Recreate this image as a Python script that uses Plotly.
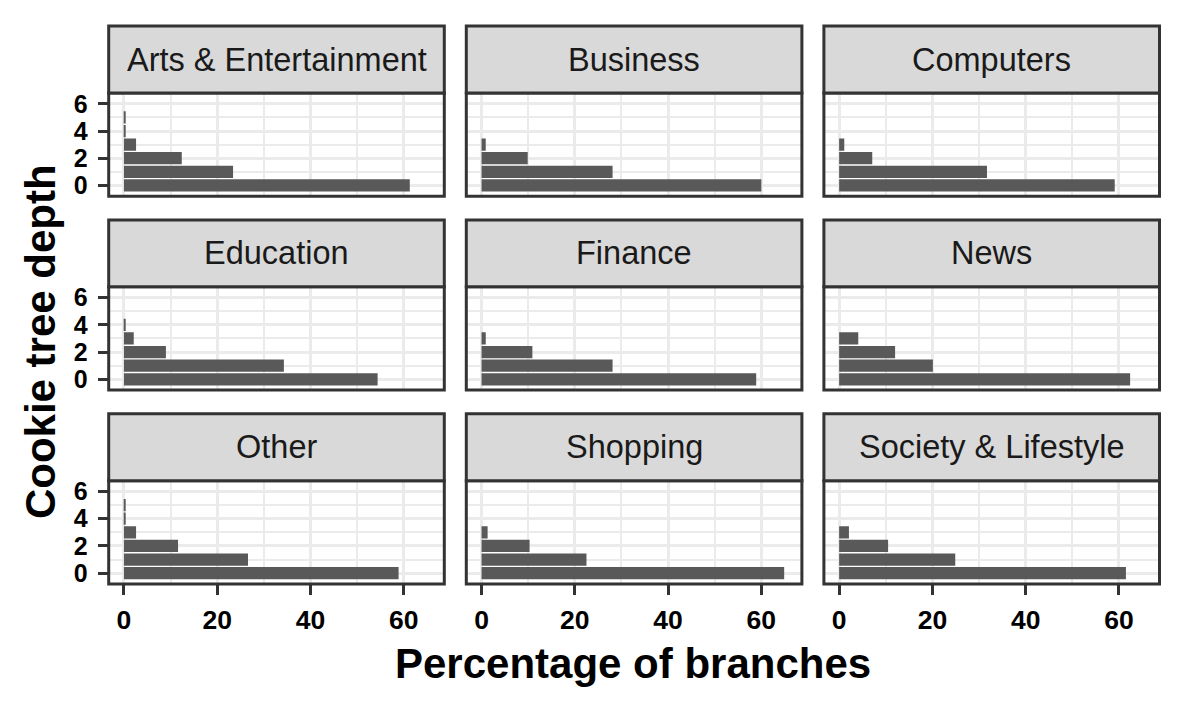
import plotly.graph_objects as go

categories = ["Arts & Entertainment", "Business", "Computers",
              "Education", "Finance", "News",
              "Other", "Shopping", "Society & Lifestyle"]
depths = [0, 1, 2, 3, 4, 5]
arts = [61.3, 23.4, 12.4, 2.6, 0.2, 0.2]
business = [60.0, 28.1, 9.9, 0.9]
computers = [59.1, 31.7, 7.1, 1.1]
education = [54.4, 34.3, 9.0, 2.1, 0.2]
finance = [58.9, 28.1, 10.9, 0.9]
news = [62.4, 20.1, 12.0, 4.1]
other = [58.9, 26.6, 11.6, 2.6, 0.2, 0.2]
shopping = [64.9, 22.5, 10.3, 1.3]
society = [61.5, 24.9, 10.5, 2.1]
x_ticks = [0, 20, 40, 60]
y_ticks = [0, 2, 4, 6]

series = [arts, business, computers, education, finance, news, other, shopping, society]

W, H = 1181, 708
col_left = [108.7, 466.3, 823.9]
col_w = 335.6
row_top = [90.8, 286.3, 481.8]
row_h = 104.1
strip_h = 67.5

def px(x):
    return x / W

def py(y):
    return 1 - y / H

FONT = "Liberation Sans, Arial, sans-serif"
BORDER = "#333333"
GRID = "#EBEBEB"

fig = go.Figure()
layout = dict(
    width=W, height=H, margin=dict(l=0, r=0, t=0, b=0),
    paper_bgcolor="white", plot_bgcolor="white", showlegend=False,
    bargap=0.1, font=dict(family=FONT),
)
shapes = []
annotations = []

for i, (cat, vals) in enumerate(zip(categories, series)):
    r, c = divmod(i, 3)
    n = i + 1
    xa = "x" if n == 1 else f"x{n}"
    ya = "y" if n == 1 else f"y{n}"
    fig.add_trace(go.Bar(
        x=vals, y=depths[:len(vals)], orientation="h",
        marker=dict(color="#595959", line=dict(width=0)),
        width=0.9, xaxis=xa, yaxis=ya, hoverinfo="x+y",
    ))
    x0, x1 = px(col_left[c]), px(col_left[c] + col_w)
    y1, y0 = py(row_top[r]), py(row_top[r] + row_h)
    bottom = r == 2
    left = c == 0
    layout[f"xaxis{'' if n == 1 else n}"] = dict(
        domain=[x0, x1], anchor=ya, range=[-3.27, 68.7],
        tickvals=x_ticks, showgrid=True, gridcolor=GRID, gridwidth=3,
        minor=dict(dtick=10, tick0=0, showgrid=True, gridcolor=GRID, gridwidth=2),
        zeroline=False, showline=False,
        ticks="outside" if bottom else "", ticklen=10, tickwidth=3, tickcolor=BORDER,
        showticklabels=bottom, ticklabelstandoff=2,
        tickfont=dict(family=FONT, size=26.5, color="black", weight="bold"),
        fixedrange=True,
    )
    layout[f"yaxis{'' if n == 1 else n}"] = dict(
        domain=[y0, y1], anchor=xa, range=[-0.795, 6.795],
        tickvals=y_ticks, showgrid=True, gridcolor=GRID, gridwidth=3,
        minor=dict(dtick=1, tick0=0, showgrid=True, gridcolor=GRID, gridwidth=2),
        zeroline=False, showline=False,
        ticks="outside" if left else "", ticklen=10, tickwidth=3, tickcolor=BORDER,
        showticklabels=left, ticklabelstandoff=5,
        tickfont=dict(family=FONT, size=25, color="black", weight="bold"),
        fixedrange=True,
    )
    # panel border
    shapes.append(dict(type="rect", xref="paper", yref="paper",
                       x0=x0, x1=x1, y0=y0, y1=y1,
                       line=dict(color=BORDER, width=3), fillcolor="rgba(0,0,0,0)",
                       layer="above"))
    # strip
    s_top = py(row_top[r] - strip_h)
    shapes.append(dict(type="rect", xref="paper", yref="paper",
                       x0=x0, x1=x1, y0=y1, y1=s_top,
                       line=dict(color=BORDER, width=3), fillcolor="#D9D9D9",
                       layer="above"))
    annotations.append(dict(text=cat, xref="paper", yref="paper",
                            x=(x0 + x1) / 2, y=(y1 + s_top) / 2,
                            xanchor="center", yanchor="middle", showarrow=False,
                            font=dict(family=FONT, size=32.5, color="#1A1A1A")))

annotations.append(dict(text="Percentage of branches", xref="paper", yref="paper",
                        x=px(633), y=py(666), xanchor="center", yanchor="middle",
                        showarrow=False,
                        font=dict(family=FONT, size=42, color="black", weight="bold")))
annotations.append(dict(text="Cookie tree depth", xref="paper", yref="paper",
                        x=px(40), y=py(342), xanchor="center", yanchor="middle",
                        textangle=-90, showarrow=False,
                        font=dict(family=FONT, size=42, color="black", weight="bold")))

layout["shapes"] = shapes
layout["annotations"] = annotations
fig.update_layout(**layout)
fig.write_html("out.html", config={"displayModeBar": False},
               post_script="document.body.style.margin='0';document.body.style.overflow='hidden';")
